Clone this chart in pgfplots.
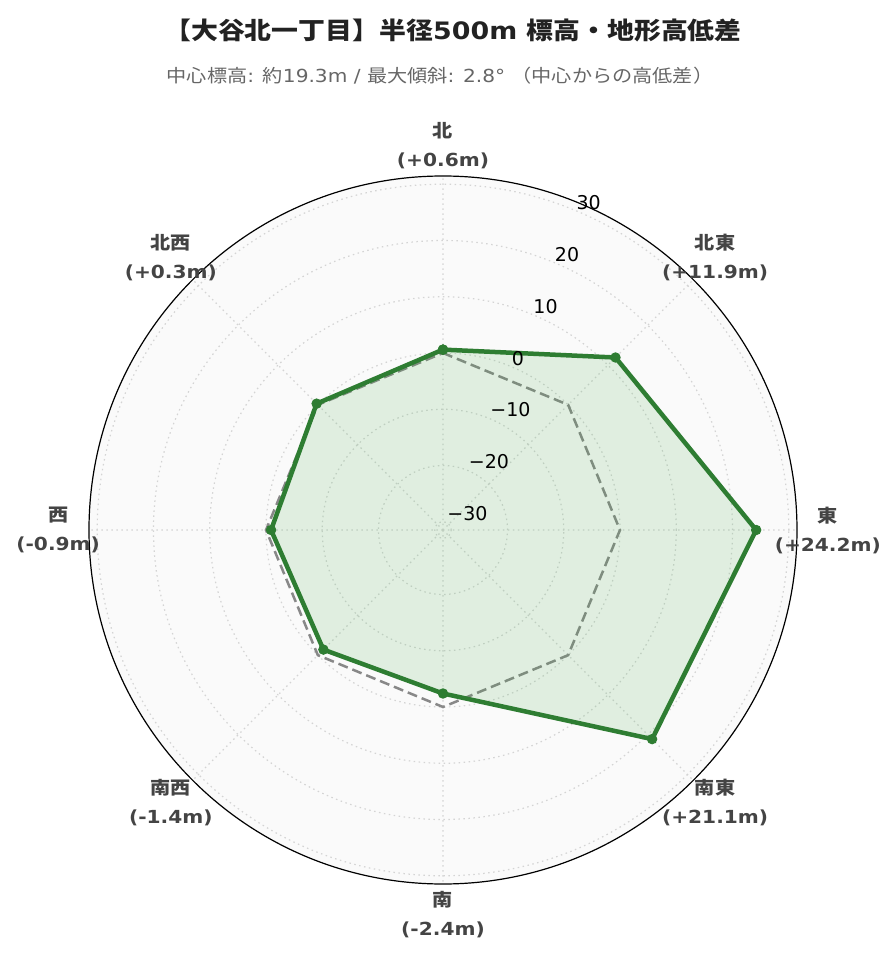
\documentclass[border=0pt]{standalone}
\usepackage{fontspec}
\setmainfont{DejaVu Sans}[FakeStretch=1.12]
\newfontfamily\tickfont{DejaVu Sans}
\newfontfamily\cjk{Noto Sans CJK JP}[FakeStretch=1.12]
\usepackage{pgfplots}
\usepackage{pgfplotstable}
\pgfplotsset{compat=1.18}
\usepgfplotslibrary{polar}
\definecolor{lineg}{HTML}{2E7D32}
\definecolor{fillg}{HTML}{4CAF50}
\definecolor{bgc}{HTML}{FAFAFA}
\definecolor{lab}{HTML}{444444}
\definecolor{subc}{HTML}{666666}
\definecolor{ttl}{HTML}{222222}
\definecolor{refg}{HTML}{888888}
\definecolor{gridc}{HTML}{D4D4D4}

% angle (deg, north = 90, clockwise), elevation difference (m)
\pgfplotstableread{
angle value
90 0.6
45 11.9
0 24.2
315 21.1
270 -2.4
225 -1.4
180 -0.9
135 0.3
90 0.6
}\elev
\pgfplotstableread{
angle value
90 0
45 0
0 0
315 0
270 0
225 0
180 0
135 0
90 0
}\zeroref

\begin{document}
\begin{tikzpicture}
\path[use as bounding box] (0,0) rectangle (896pt,962pt);
\fill[bgc] (443pt,432pt) circle (354pt);
\node[font=\fontsize{24}{24}\selectfont\bfseries, text=ttl] at (453pt,932pt)
  {{\cjk 【大谷北一丁目】半径}500m {\cjk 標高・地形高低差}};
\node[font=\fontsize{18}{18}\selectfont, text=subc] at (440pt,886pt)
  {{\cjk 中心標高}: {\cjk 約}19.3m / {\cjk 最大傾斜}: 2.8° {\cjk （中心からの高低差）}};
\begin{polaraxis}[
  at={(443pt,432pt)}, anchor=center,
  width=708pt, height=708pt, scale only axis,
  xmin=0, xmax=360, ymin=0, ymax=62.92,
  xtick={0,45,...,315}, xticklabels={},
  ytick={1.46,11.46,21.46,31.46,41.46,51.46,61.46}, yticklabels={},
  grid=major,
  major grid style={gridc, line width=1.2pt, dash pattern=on 1.5pt off 3.5pt},
  tick style={draw=none},
  axis line style={black, line width=1.2pt},
  y axis line style={draw=none},
  clip=false,
  y filter/.expression={y+31.46},
]
\addplot[refg, line width=2.5pt, dash pattern=on 10pt off 5pt, mark=none] table[x=angle,y=value] {\zeroref};
\addplot[lineg, line width=4.5pt, fill=fillg, fill opacity=0.15, mark=*, mark size=4.7pt,
  mark options={fill=lineg, fill opacity=1, line width=1pt}] table[x=angle,y=value] {\elev};

\pgfkeys{/tmp/rl/.style={anchor=south west, inner sep=1pt, font=\tickfont\fontsize{19}{19}\selectfont, text=black}}
\node[/tmp/rl] at (axis cs:67.5,1.46) {−30};
\node[/tmp/rl] at (axis cs:67.5,11.46) {−20};
\node[/tmp/rl] at (axis cs:67.5,21.46) {−10};
\node[/tmp/rl] at (axis cs:67.5,31.46) {0};
\node[/tmp/rl] at (axis cs:67.5,41.46) {10};
\node[/tmp/rl] at (axis cs:67.5,51.46) {20};
\node[/tmp/rl] at (axis cs:67.5,61.46) {30};

\pgfkeys{/tmp/al/.style={anchor=center, align=center, inner sep=0pt, text=lab, font=\fontsize{18}{29}\selectfont\bfseries}}
\node[/tmp/al] at (axis cs:90,68.4) {{\cjk 北}\\(+0.6m)};
\node[/tmp/al] at (axis cs:45,68.4) {{\cjk 北東}\\(+11.9m)};
\node[/tmp/al] at (axis cs:0,68.4) {{\cjk 東}\\(+24.2m)};
\node[/tmp/al] at (axis cs:315,68.4) {{\cjk 南東}\\(+21.1m)};
\node[/tmp/al] at (axis cs:270,68.4) {{\cjk 南}\\(-2.4m)};
\node[/tmp/al] at (axis cs:225,68.4) {{\cjk 南西}\\(-1.4m)};
\node[/tmp/al] at (axis cs:180,68.4) {{\cjk 西}\\(-0.9m)};
\node[/tmp/al] at (axis cs:135,68.4) {{\cjk 北西}\\(+0.3m)};
\end{polaraxis}
\end{tikzpicture}
\end{document}
